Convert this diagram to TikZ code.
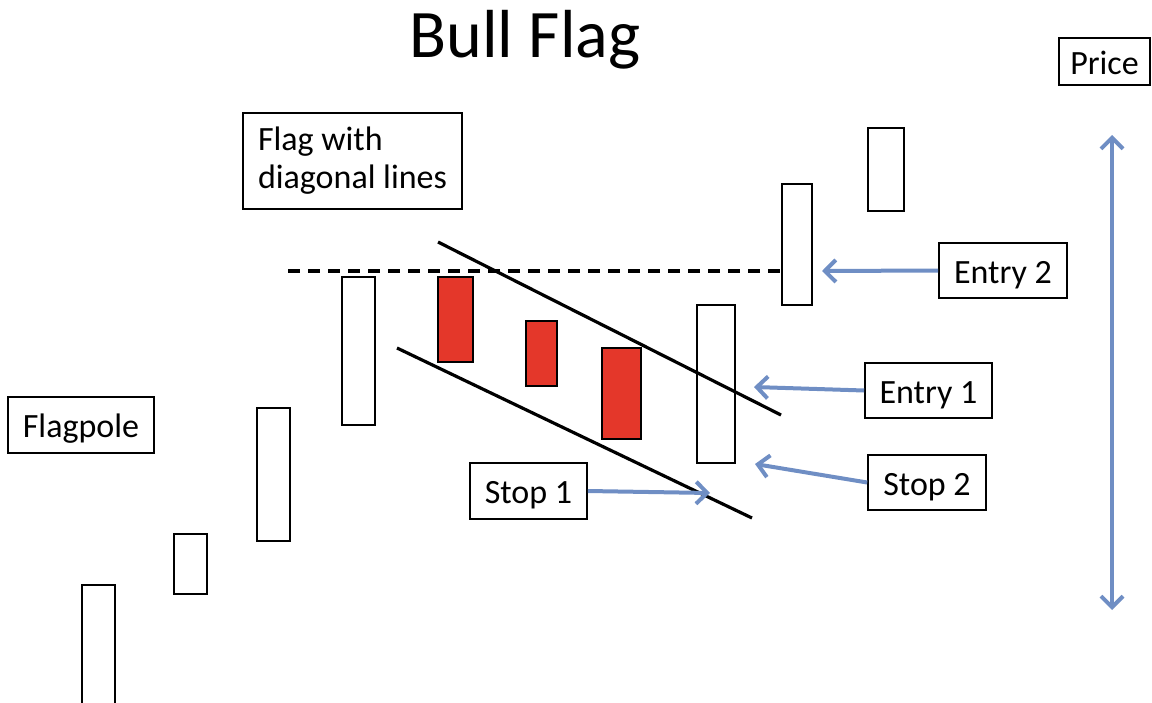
\documentclass[tikz,border=0pt]{standalone}
\usepackage{fontspec}
\setmainfont{Carlito}
\usetikzlibrary{arrows.meta}
\definecolor{arrowblue}{RGB}{111,142,196}
\definecolor{candlered}{RGB}{228,55,42}
\begin{document}
\begin{tikzpicture}[x=0.5pt,y=-0.5pt,
 lbl/.style={draw=black,line width=0.8pt,font=\fontsize{17}{19}\selectfont,inner sep=0pt,minimum height=27.5pt,text height=12.5pt,text depth=0pt},
 candle/.style={draw=black,line width=0.8pt,fill=white,inner sep=0pt},
 redcandle/.style={candle,fill=candlered},
 ptr/.style={draw=arrowblue,line width=2pt,-{Straight Barb[length=5.5pt,width=11pt,line width=2pt]}},
 dptr/.style={draw=arrowblue,line width=2pt,{Straight Barb[length=5.5pt,width=11pt,line width=2pt]}-{Straight Barb[length=5.5pt,width=11pt,line width=2pt]}},
 trend/.style={line width=1.6pt,draw=black},
]
\useasboundingbox (0,0) rectangle (1152,702);
% title
\node[font=\fontsize{34}{40}\selectfont,anchor=base,inner sep=0pt] (title) at (525,57) {Bull Flag};
% dashed resistance line start
\coordinate (dstart) at (288,271);
% candles
\node[candle,minimum width=16.5pt,minimum height=62.5pt] (c1) at (98.5,647.5) {};
\node[candle,minimum width=16.5pt,minimum height=30pt] (c2) at (190.5,564) {};
\node[candle,minimum width=16.5pt,minimum height=66.5pt] (c3) at (273.5,474.5) {};
\node[candle,minimum width=16.5pt,minimum height=74pt] (c4) at (358.5,351) {};
\node[redcandle,minimum width=17.5pt,minimum height=42.5pt] (r1) at (455.5,319.5) {};
\node[redcandle,minimum width=15.5pt,minimum height=32.5pt] (r2) at (541.5,353.5) {};
\node[redcandle,minimum width=19.5pt,minimum height=45.5pt] (r3) at (621.5,393.5) {};
\node[candle,minimum width=19pt,minimum height=79pt] (c5) at (716,384) {};
\node[candle,minimum width=15pt,minimum height=60.5pt] (c6) at (797,244.5) {};
\node[candle,minimum width=18pt,minimum height=41.5pt] (c7) at (886,169.5) {};
% dashed line
\draw[line width=1.6pt,dash pattern=on 6pt off 4pt] (dstart) -- (dstart -| c6.west);
% diagonal flag lines
\coordinate (u1) at (438,242);
\coordinate (u2) at (781,415);
\coordinate (l1) at (397,348);
\coordinate (l2) at (752,518);
\draw[trend] (u1) -- (u2);
\draw[trend] (l1) -- (l2);
% labels
\node[draw=black,line width=0.8pt,font=\fontsize{17}{19}\selectfont,inner sep=0pt,align=left,minimum width=109.5pt,minimum height=48pt] (flag) at (352.5,161) {Flag with\\diagonal lines};
\node[lbl,minimum width=64pt] (e2) at (1003,270.5) {Entry 2};
\node[lbl,minimum width=63.5pt] (e1) at (928.5,390.5) {Entry 1};
\node[lbl,minimum width=59pt] (s2) at (927,482.5) {Stop 2};
\node[lbl,minimum width=58.5pt,minimum height=28pt] (s1) at (528.5,491) {Stop 1};
\node[lbl,minimum width=73pt,minimum height=28pt] (fp) at (81,425) {Flagpole};
\node[lbl,minimum width=45.5pt,minimum height=23.5pt] (price) at (1104.5,61.5) {Price};
% arrow tips
\coordinate (te2) at (822,271);
\coordinate (te1) at (754,387);
\coordinate (ts2) at (755,464);
\coordinate (ts1) at (710,493);
\coordinate (ptop) at (1112,135);
\coordinate (pbot) at (1112,610);
\draw[ptr] (e2.west) -- (te2);
\draw[ptr] (e1.west) -- (te1);
\draw[ptr] (s2.west) -- (ts2);
\draw[ptr] (s1.east) -- (ts1);
\draw[dptr] (ptop) -- (pbot);
\end{tikzpicture}
\end{document}
